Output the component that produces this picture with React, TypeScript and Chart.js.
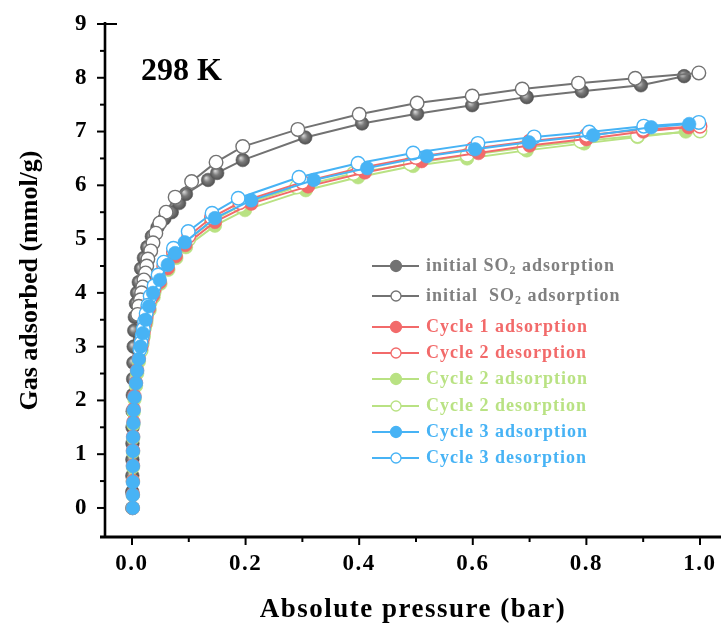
import React, { useEffect, useRef } from 'react';
import { Chart, registerables } from 'chart.js';
Chart.register(...registerables);

const FONT = "'Liberation Serif', 'Times New Roman', serif";

// ---------- data ----------
const labels = [
  'initial SO₂ adsorption',
  'initial  SO₂ adsorption',
  'Cycle 1 adsorption',
  'Cycle 2 desorption',
  'Cycle 2 adsorption',
  'Cycle 2 desorption',
  'Cycle 3 adsorption',
  'Cycle 3 desorption',
];

const greyAdsP = [0.0005, 0.0005, 0.0006, 0.0007, 0.0008, 0.001, 0.0012, 0.0015, 0.002, 0.0025, 0.003, 0.004, 0.005, 0.007, 0.009, 0.012, 0.016, 0.021, 0.027, 0.035, 0.045, 0.057, 0.07, 0.083, 0.095, 0.134, 0.15, 0.195, 0.305, 0.405, 0.502, 0.599, 0.695, 0.792, 0.896, 0.972];
const greyAdsV = [0, 0.3, 0.6, 0.9, 1.2, 1.5, 1.8, 2.1, 2.4, 2.7, 3.0, 3.3, 3.55, 3.8, 4.0, 4.2, 4.45, 4.65, 4.85, 5.05, 5.22, 5.38, 5.5, 5.67, 5.84, 6.10, 6.23, 6.47, 6.89, 7.15, 7.33, 7.49, 7.64, 7.75, 7.86, 8.03];

const greyDesP = [0.998, 0.886, 0.786, 0.687, 0.599, 0.502, 0.4, 0.292, 0.195, 0.148, 0.105, 0.076, 0.06, 0.049, 0.042, 0.037, 0.033, 0.028, 0.026, 0.024, 0.021, 0.019, 0.017, 0.015, 0.012, 0.010];
const greyDesV = [8.09, 7.99, 7.90, 7.79, 7.66, 7.53, 7.32, 7.04, 6.72, 6.43, 6.07, 5.78, 5.5, 5.30, 5.11, 4.93, 4.78, 4.63, 4.5, 4.37, 4.24, 4.11, 4.0, 3.87, 3.75, 3.6];

const c1AdsP = [0.0015, 0.0015, 0.0016, 0.0017, 0.0018, 0.002, 0.0025, 0.003, 0.0045, 0.007, 0.009, 0.012, 0.015, 0.019, 0.024, 0.03, 0.037, 0.049, 0.063, 0.077, 0.094, 0.146, 0.21, 0.31, 0.41, 0.51, 0.61, 0.70, 0.80, 0.90, 0.98];
const c1AdsV = [0, 0.25, 0.5, 0.79, 1.07, 1.33, 1.6, 1.84, 2.08, 2.33, 2.56, 2.78, 3.0, 3.23, 3.47, 3.71, 3.95, 4.2, 4.46, 4.68, 4.89, 5.32, 5.66, 5.98, 6.24, 6.45, 6.6, 6.74, 6.86, 7.0, 7.08];

const c2DesRedP = [1.0, 0.9, 0.8, 0.7, 0.6, 0.5, 0.4, 0.3, 0.19, 0.14, 0.1, 0.073, 0.056, 0.046, 0.039, 0.032, 0.028, 0.025, 0.022, 0.02, 0.018, 0.016];
const c2DesRedV = [7.1, 7.04, 6.93, 6.82, 6.68, 6.52, 6.32, 6.06, 5.68, 5.4, 5.06, 4.76, 4.5, 4.27, 4.07, 3.88, 3.71, 3.56, 3.41, 3.27, 3.13, 3.0];

const c2AdsP = [0.0015, 0.0015, 0.0016, 0.0017, 0.0018, 0.002, 0.0025, 0.003, 0.0045, 0.007, 0.009, 0.012, 0.016, 0.02, 0.025, 0.031, 0.038, 0.05, 0.064, 0.078, 0.095, 0.146, 0.199, 0.306, 0.398, 0.495, 0.59, 0.695, 0.796, 0.89, 0.975];
const c2AdsV = [0, 0.24, 0.5, 0.76, 1.04, 1.3, 1.55, 1.78, 2.02, 2.27, 2.5, 2.72, 2.95, 3.18, 3.43, 3.68, 3.92, 4.17, 4.43, 4.65, 4.85, 5.25, 5.54, 5.91, 6.15, 6.36, 6.5, 6.65, 6.78, 6.90, 7.0];

const c2DesGreenP = [1.0, 0.89, 0.79, 0.69, 0.59, 0.49, 0.39, 0.29, 0.19, 0.14, 0.10, 0.073, 0.056, 0.046, 0.039, 0.032, 0.028, 0.025, 0.022, 0.02, 0.018, 0.016];
const c2DesGreenV = [7.01, 6.92, 6.82, 6.70, 6.56, 6.40, 6.22, 5.97, 5.62, 5.33, 5.0, 4.7, 4.45, 4.22, 4.02, 3.83, 3.66, 3.5, 3.35, 3.2, 3.06, 2.93];

const c3AdsP = [0.0015, 0.0015, 0.0016, 0.0017, 0.0018, 0.002, 0.0025, 0.003, 0.0045, 0.007, 0.009, 0.012, 0.015, 0.019, 0.024, 0.03, 0.037, 0.049, 0.063, 0.076, 0.093, 0.146, 0.21, 0.32, 0.414, 0.519, 0.604, 0.699, 0.812, 0.914, 0.981];
const c3AdsV = [0, 0.24, 0.48, 0.78, 1.06, 1.32, 1.58, 1.82, 2.06, 2.32, 2.55, 2.77, 3.0, 3.25, 3.5, 3.75, 4.0, 4.24, 4.52, 4.74, 4.94, 5.39, 5.72, 6.10, 6.32, 6.54, 6.67, 6.80, 6.93, 7.08, 7.14];

const c3DesP = [0.998, 0.901, 0.805, 0.708, 0.609, 0.495, 0.398, 0.294, 0.187, 0.141, 0.099, 0.073, 0.056, 0.046, 0.039, 0.032, 0.028, 0.025, 0.022, 0.02, 0.018, 0.016, 0.014];
const c3DesV = [7.17, 7.10, 6.99, 6.90, 6.78, 6.60, 6.41, 6.15, 5.76, 5.48, 5.14, 4.83, 4.57, 4.33, 4.13, 3.94, 3.77, 3.62, 3.47, 3.33, 3.2, 3.07, 2.95];

const xTicks = [0, 0.2, 0.4, 0.6, 0.8, 1.0];
const xMinorTicks = [0.1, 0.3, 0.5, 0.7, 0.9];
const yTicks = [0, 1, 2, 3, 4, 5, 6, 7, 8, 9];
const yMinorTicks = [0.5, 1.5, 2.5, 3.5, 4.5, 5.5, 6.5, 7.5, 8.5];
const tempLabel = '298 K';

// ---------- styles ----------
const GREY = '#727272';
const GREY_TEXT = '#7f7f7f';
const RED = '#f26a6a';
const GREEN = '#b9e283';
const BLUE = '#47b3f5';
const SPACING = '1.5px';

const greyGradient = (ctx: any) => {
  if (ctx.type !== 'data' || !ctx.parsed) return '#666';
  const chart = ctx.chart;
  const xs = chart.scales && chart.scales.x;
  const ys = chart.scales && chart.scales.y;
  if (!xs || !ys) return '#666';
  const px = xs.getPixelForValue(ctx.parsed.x);
  const py = ys.getPixelForValue(ctx.parsed.y);
  if (!Number.isFinite(px) || !Number.isFinite(py)) return '#666';
  const g = chart.ctx.createRadialGradient(px - 2, py - 2, 0.5, px, py, 7);
  g.addColorStop(0, '#d0d0d0');
  g.addColorStop(0.45, '#7a7a7a');
  g.addColorStop(1, '#4e4e4e');
  return g;
};

function makeSet(i: number, ps: number[], vs: number[], color: string, textColor: string, filled: boolean, order: number, grey = false) {
  return {
    label: labels[i],
    data: ps.map((p, k) => ({ x: p, y: vs[k] })),
    showLine: true,
    borderColor: color,
    backgroundColor: color,
    borderWidth: 2,
    pointRadius: 6.8,
    pointHoverRadius: 6.8,
    pointBackgroundColor: filled ? (grey ? greyGradient : color) : '#ffffff',
    pointBorderColor: filled ? (grey ? '#5a5a5a' : color) : color,
    pointBorderWidth: filled ? 0.6 : 1.4,
    tension: 0,
    order,
    filled,
    legendColor: textColor,
  };
}

const datasets = [
  makeSet(0, greyAdsP, greyAdsV, GREY, GREY_TEXT, true, 7, true),
  makeSet(1, greyDesP, greyDesV, GREY, GREY_TEXT, false, 6),
  makeSet(2, c1AdsP, c1AdsV, RED, RED, true, 3),
  makeSet(3, c2DesRedP, c2DesRedV, RED, RED, false, 2),
  makeSet(4, c2AdsP, c2AdsV, GREEN, GREEN, true, 5),
  makeSet(5, c2DesGreenP, c2DesGreenV, GREEN, GREEN, false, 4),
  makeSet(6, c3AdsP, c3AdsV, BLUE, BLUE, true, 0),
  makeSet(7, c3DesP, c3DesV, BLUE, BLUE, false, 1),
];

// ---------- plugins ----------
const spacingPlugin = {
  id: 'textSpacing',
  beforeUpdate(chart: any) { chart.ctx.letterSpacing = SPACING; },
  beforeLayout(chart: any) { chart.ctx.letterSpacing = SPACING; },
  beforeDraw(chart: any) { chart.ctx.letterSpacing = SPACING; },
};

const axesPlugin = {
  id: 'axesDraw',
  afterDraw(chart: any) {
    const { ctx, chartArea } = chart;
    const { left, top, right, bottom } = chartArea;
    const xs = chart.scales.x;
    const ys = chart.scales.y;
    ctx.save();
    ctx.strokeStyle = '#000';
    ctx.lineCap = 'butt';
    ctx.lineWidth = 2.6;
    ctx.beginPath();
    ctx.moveTo(left, top - 2);
    ctx.lineTo(left, bottom);
    ctx.stroke();
    ctx.lineWidth = 2;
    ctx.beginPath();
    ctx.moveTo(left - 8, ys.getPixelForValue(9));
    ctx.lineTo(left + 12, ys.getPixelForValue(9));
    ctx.stroke();
    ctx.lineWidth = 3;
    ctx.beginPath();
    ctx.moveTo(left - 5, bottom);
    ctx.lineTo(right, bottom);
    ctx.stroke();
    ctx.lineWidth = 2;
    yTicks.forEach((v) => {
      const py = ys.getPixelForValue(v);
      ctx.beginPath();
      ctx.moveTo(left - 8, py);
      ctx.lineTo(left, py);
      ctx.stroke();
    });
    yMinorTicks.forEach((v) => {
      const py = ys.getPixelForValue(v);
      ctx.beginPath();
      ctx.moveTo(left - 5, py);
      ctx.lineTo(left, py);
      ctx.stroke();
    });
    xTicks.forEach((v) => {
      const px = xs.getPixelForValue(v);
      ctx.beginPath();
      ctx.moveTo(px, bottom);
      ctx.lineTo(px, bottom + 8);
      ctx.stroke();
    });
    xMinorTicks.forEach((v) => {
      const px = xs.getPixelForValue(v);
      ctx.beginPath();
      ctx.moveTo(px, bottom);
      ctx.lineTo(px, bottom + 5);
      ctx.stroke();
    });
    ctx.letterSpacing = '0px';
    ctx.fillStyle = '#000';
    ctx.font = `bold 32px ${FONT}`;
    ctx.textBaseline = 'alphabetic';
    ctx.textAlign = 'left';
    ctx.fillText(tempLabel, 141, 80);
    ctx.restore();
  },
};

const legendPlugin = {
  id: 'customLegend',
  afterDraw(chart: any) {
    const ctx = chart.ctx;
    const rows = [266, 296, 327, 353, 379, 406, 432, 458];
    chart.data.datasets.forEach((ds: any, i: number) => {
      const y = rows[i];
      ctx.save();
      ctx.letterSpacing = '1px';
      ctx.strokeStyle = ds.borderColor;
      ctx.lineWidth = 2;
      ctx.beginPath();
      ctx.moveTo(372, y);
      ctx.lineTo(419, y);
      ctx.stroke();
      ctx.beginPath();
      ctx.arc(396, y, ds.filled ? 5.5 : 5, 0, Math.PI * 2);
      ctx.fillStyle = ds.filled ? ds.borderColor : '#fff';
      ctx.fill();
      ctx.lineWidth = 1.3;
      ctx.stroke();
      ctx.fillStyle = ds.legendColor;
      ctx.textBaseline = 'middle';
      ctx.textAlign = 'left';
      const parts = String(ds.label).split('₂');
      let x = 426;
      parts.forEach((part: string, k: number) => {
        ctx.font = `bold 18px ${FONT}`;
        ctx.fillText(part, x, y);
        x += ctx.measureText(part).width;
        if (k < parts.length - 1) {
          ctx.font = `bold 12px ${FONT}`;
          ctx.fillText('2', x, y + 5);
          x += ctx.measureText('2').width;
        }
      });
      ctx.restore();
    });
  },
};

export default function App() {
  const ref = useRef<HTMLCanvasElement>(null);
  useEffect(() => {
    const chart = new Chart(ref.current as HTMLCanvasElement, {
      type: 'scatter',
      data: { datasets: datasets as any },
      options: {
        animation: false,
        responsive: false,
        maintainAspectRatio: false,
        layout: { autoPadding: false, padding: { top: 24, right: 0, left: 0, bottom: 0 } },
        plugins: { legend: { display: false }, tooltip: { enabled: false } },
        scales: {
          x: {
            type: 'linear',
            min: -0.0475,
            max: 1.037,
            afterFit: (s: any) => { s.height = 89; s.paddingLeft = 0; s.paddingRight = 0; },
            grid: { display: false, drawTicks: false },
            border: { display: false },
            ticks: {
              stepSize: 0.2,
              includeBounds: false,
              padding: 13,
              maxRotation: 0,
              color: '#000',
              font: { family: FONT, size: 23, weight: 'bold' },
              callback: (v: any) => Number(v).toFixed(1),
            },
            title: {
              display: true,
              text: 'Absolute pressure (bar)',
              color: '#000',
              font: { family: FONT, size: 27, weight: 'bold' },
              padding: { top: 0, bottom: 0 },
            },
          },
          y: {
            type: 'linear',
            min: -0.54,
            max: 9,
            afterFit: (s: any) => {
              s.width = 105;
              s.paddingTop = 0;
              s.paddingBottom = 0;
              if (!s.__wrapped) {
                const orig = s.drawTitle.bind(s);
                s.drawTitle = () => {
                  const c = s.ctx;
                  const prev = c.letterSpacing;
                  c.letterSpacing = '0px';
                  orig();
                  c.letterSpacing = prev;
                };
                s.__wrapped = true;
              }
            },
            grid: { display: false, drawTicks: false },
            border: { display: false },
            ticks: {
              stepSize: 1,
              includeBounds: false,
              padding: 17,
              color: '#000',
              font: { family: FONT, size: 23, weight: 'bold' },
              callback: (v: any) => String(Math.round(Number(v))),
            },
            title: {
              display: true,
              text: 'Gas adsorbed (mmol/g)',
              color: '#000',
              font: { family: FONT, size: 26, weight: 'bold' },
              padding: { top: 15, bottom: 0 },
            },
          },
        },
      } as any,
      plugins: [spacingPlugin, axesPlugin, legendPlugin],
    });
    return () => chart.destroy();
  }, []);
  return (
    <div style={{ position: 'fixed', left: 0, top: 0, width: 721, height: 626, background: '#fff' }}>
      <canvas ref={ref} width={721} height={626} style={{ width: 721, height: 626, display: 'block' }} />
    </div>
  );
}
